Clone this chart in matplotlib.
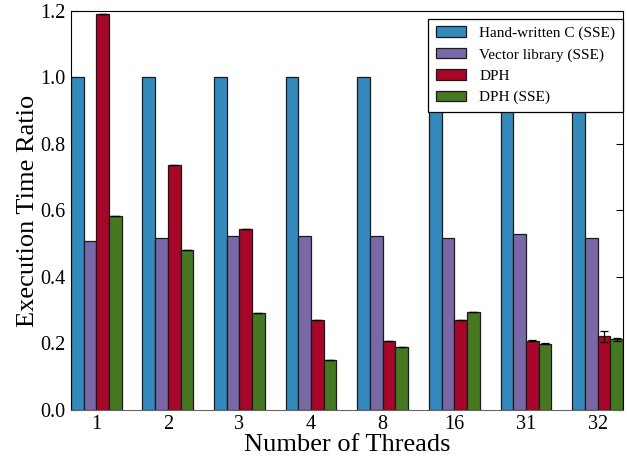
import matplotlib
matplotlib.use("Agg")
import matplotlib.pyplot as plt
import numpy as np

THREADS = ["1", "2", "3", "4", "8", "16", "31", "32"]
SERIES = ["Hand-written C (SSE)", "Vector library (SSE)", "DPH", "DPH (SSE)"]

HAND_C = [1.0, 1.0, 1.0, 1.0, 1.0, 1.0, 1.0, 1.0]
VECLIB = [0.508, 0.516, 0.523, 0.523, 0.524, 0.516, 0.529, 0.517]
DPH = [1.19, 0.737, 0.545, 0.269, 0.207, 0.269, 0.208, 0.221]
DPH_SSE = [0.583, 0.482, 0.291, 0.150, 0.190, 0.296, 0.199, 0.212]

DPH_ERR = [0, 0, 0, 0, 0, 0, 0.002, 0.017]
DPH_SSE_ERR = [0, 0, 0, 0, 0, 0, 0.001, 0.004]

COLORS = ["#348ABD", "#7A68A6", "#A60628", "#467821"]


def main():
    plt.rcParams["font.family"] = ["Liberation Serif", "DejaVu Serif"]
    fig, ax = plt.subplots(figsize=(6.27, 4.57), dpi=100)
    fig.subplots_adjust(left=0.113, right=0.9936, top=0.976, bottom=0.103)

    x = np.arange(len(THREADS))
    w = 0.177
    values = [HAND_C, VECLIB, DPH, DPH_SSE]
    errs = [None, None, DPH_ERR, DPH_SSE_ERR]
    for i, (vals, err, color, label) in enumerate(zip(values, errs, COLORS, SERIES)):
        ax.bar(
            x + (i - 1.5) * w,
            vals,
            width=w,
            color=color,
            edgecolor="#1a1a1a",
            linewidth=0.9,
            label=label,
            yerr=err,
            error_kw={"ecolor": "black", "capsize": 3, "elinewidth": 0.9, "capthick": 0.9},
            zorder=2,
        )

    ax.set_xlim(-2 * w, len(THREADS) - 1 + 2 * w)
    ax.set_ylim(0, 1.2)
    ax.set_yticks(np.arange(0, 1.21, 0.2))
    ax.set_yticklabels([f"{v:.1f}" for v in np.arange(0, 1.21, 0.2)])
    ax.set_xticks(x)
    ax.set_xticklabels(THREADS)
    ax.tick_params(axis="x", length=0, labelsize=14.5, pad=4)
    ax.tick_params(axis="y", direction="in", right=True, length=5, labelsize=14.5, pad=4)
    ax.spines["bottom"].set_color("#666666")
    ax.set_xlabel("Number of Threads", fontsize=19, labelpad=0)
    ax.set_ylabel("Execution Time Ratio", fontsize=19, labelpad=1)

    leg = ax.legend(
        loc="upper right",
        bbox_to_anchor=(1.0, 0.981),
        fontsize=11,
        frameon=True,
        fancybox=False,
        framealpha=1.0,
        edgecolor="black",
        borderaxespad=0.0,
        handlelength=2.0,
        handleheight=0.7,
        handletextpad=0.85,
        labelspacing=0.5,
        borderpad=0.5,
    )
    leg.get_frame().set_linewidth(0.9)
    leg.set_zorder(5)

    fig.savefig("out.png", dpi=100)


if __name__ == "__main__":
    main()
